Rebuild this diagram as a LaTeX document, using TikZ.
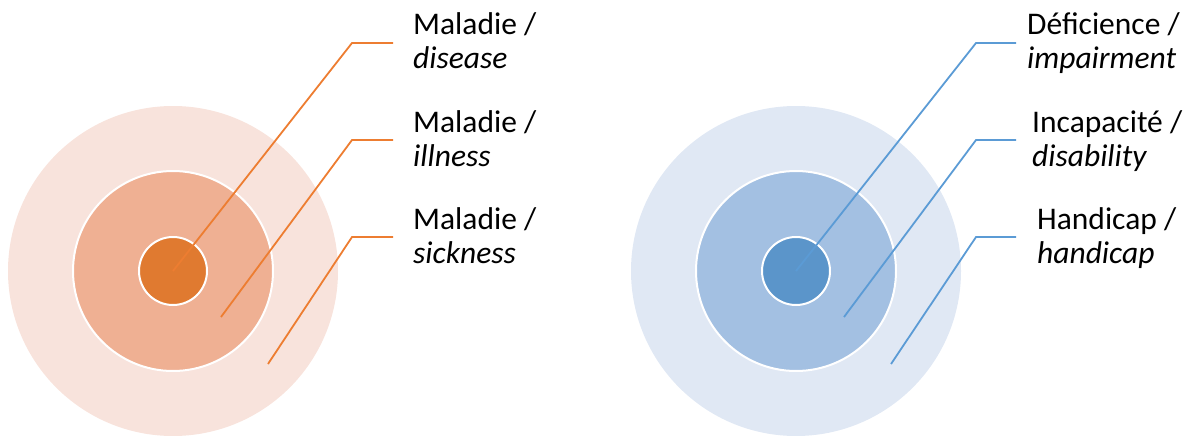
\documentclass[tikz,border=0pt]{standalone}
\usepackage{fontspec}
\setmainfont{Carlito}
\usetikzlibrary{positioning}
\definecolor{orOut}{HTML}{F8E3DC}
\definecolor{orMid}{HTML}{EFB093}
\definecolor{orIn}{HTML}{E07A30}
\definecolor{orLine}{HTML}{ED7D31}
\definecolor{blOut}{HTML}{E0E8F4}
\definecolor{blMid}{HTML}{A3C0E2}
\definecolor{blIn}{HTML}{5B95CA}
\definecolor{blLine}{HTML}{5B9BD5}
\tikzstyle{ring} = [circle, inner sep=0pt, draw=white, line width=2pt]
\tikzstyle{leader} = [line width=1.8pt]
\tikzstyle{term} = [anchor=base west, align=left, inner sep=0pt, font=\fontsize{31.5}{33.5}\selectfont]

\begin{document}
\begin{tikzpicture}[x=1pt, y=-1pt]
      \useasboundingbox (0,0) rectangle (1191,436);

      % Cercles gauche (maladie)
      \node[ring, draw=none, fill=orOut, minimum size=330] (sickC) at (173,271) {};
      \node[ring, fill=orMid, minimum size=200] (illC) at (sickC.center) {};
      \node[ring, fill=orIn, minimum size=68] (disC) at (sickC.center) {};

      % Cercles droite (handicap)
      \node[ring, draw=none, fill=blOut, minimum size=330] (hanC) at (796,271) {};
      \node[ring, fill=blMid, minimum size=200] (disaC) at (hanC.center) {};
      \node[ring, fill=blIn, minimum size=68] (impC) at (hanC.center) {};

      % Textes gauche
      \node[term] (disT) at (413,68) {Maladie /\\\textit{disease}};
      \node[term] (illT) at (413,166) {Maladie /\\\textit{illness}};
      \node[term] (sickT) at (413,263) {Maladie /\\\textit{sickness}};

      % Textes droite
      \node[term] (impT) at (1027,68) {Déficience /\\\textit{impairment}};
      \node[term] (disaT) at (1032,166) {Incapacité /\\\textit{disability}};
      \node[term] (hanT) at (1037,263) {Handicap /\\\textit{handicap}};

      % Points des traits
      \coordinate (disS) at (disC.center);
      \coordinate (illS) at ([shift={(48,46)}]sickC.center);
      \coordinate (sickS) at ([shift={(95,93)}]sickC.center);
      \coordinate (impS) at (impC.center);
      \coordinate (disaS) at ([shift={(48,46)}]hanC.center);
      \coordinate (hanS) at ([shift={(95,93)}]hanC.center);

      \coordinate (disE) at (393,43);
      \coordinate (illE) at (393,140);
      \coordinate (sickE) at (393,237);
      \coordinate (impE) at (1016,43);
      \coordinate (disaE) at (1016,140);
      \coordinate (hanE) at (1016,237);

      % Traits
      \draw[leader, orLine] (disS) -- ([xshift=-41pt]disE) -- (disE);
      \draw[leader, orLine] (illS) -- ([xshift=-41pt]illE) -- (illE);
      \draw[leader, orLine] (sickS) -- ([xshift=-41pt]sickE) -- (sickE);

      \draw[leader, blLine] (impS) -- ([xshift=-40pt]impE) -- (impE);
      \draw[leader, blLine] (disaS) -- ([xshift=-40pt]disaE) -- (disaE);
      \draw[leader, blLine] (hanS) -- ([xshift=-40pt]hanE) -- (hanE);
\end{tikzpicture}
\end{document}
